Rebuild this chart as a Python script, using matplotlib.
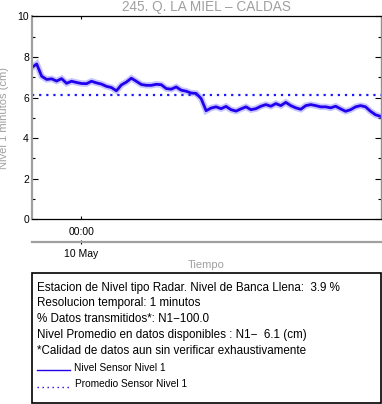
import pandas as pd
import matplotlib
matplotlib.use('Agg')
import matplotlib.pyplot as plt
import matplotlib.dates as mdates
from matplotlib.patches import Rectangle
from matplotlib.lines import Line2D
from matplotlib.ticker import MultipleLocator

plt.rcParams['font.family'] = ['Liberation Sans', 'DejaVu Sans']

# datos
station = '245. Q. LA MIEL \u2013 CALDAS'
t_start = '2024-05-09 20:36'
t_end = '2024-05-10 20:36'
nivel = [7.47, 7.65, 7.05, 6.89, 6.92, 6.81, 6.93, 6.70, 6.80, 6.74,
         6.69, 6.68, 6.80, 6.72, 6.66, 6.55, 6.49, 6.33, 6.62, 6.76,
         6.95, 6.80, 6.64, 6.60, 6.60, 6.65, 6.63, 6.44, 6.41, 6.52,
         6.36, 6.31, 6.22, 6.20, 5.95, 5.35, 5.48, 5.54, 5.45, 5.56,
         5.40, 5.33, 5.44, 5.54, 5.40, 5.45, 5.57, 5.65, 5.57, 5.70,
         5.60, 5.76, 5.60, 5.49, 5.42, 5.60, 5.65, 5.60, 5.54, 5.54,
         5.49, 5.57, 5.44, 5.32, 5.40, 5.54, 5.60, 5.54, 5.32, 5.15, 5.07]
promedio = 6.1
info_lines = [
    'Estacion de Nivel tipo Radar. Nivel de Banca Llena:  3.9 %',
    'Resolucion temporal: 1 minutos',
    '% Datos transmitidos*: N1\u2212100.0',
    'Nivel Promedio en datos disponibles : N1\u2212  6.1 (cm)',
    '*Calidad de datos aun sin verificar exhaustivamente',
]
legend_labels = ['Nivel Sensor Nivel 1', 'Promedio Sensor Nivel 1']

times = pd.date_range(t_start, t_end, periods=len(nivel))

W, H = 382, 404
gray = '#a0a0a0'
blue = '#2200ee'


def fx(px):
    return px / W


def fy(py):
    return 1 - py / H


fig = plt.figure(figsize=(W / 100, H / 100), dpi=100)
ax = fig.add_axes([fx(31.7), fy(219.3), fx(380.5) - fx(31.7), fy(16.3) - fy(219.3)])

# banda clara + trazo principal
ax.plot(times, nivel, color='#8080ff', lw=4.6, alpha=0.45, solid_joinstyle='miter')
ax.plot(times, nivel, color=blue, lw=2.0)
ax.axhline(promedio, color='#1a1aff', lw=1.6, linestyle=(0, (1, 2.2)))

ax.set_xlim(times[0], times[-1])
ax.set_ylim(0, 10)

ax.yaxis.set_major_locator(MultipleLocator(2))
ax.yaxis.set_minor_locator(MultipleLocator(1))
ax.tick_params(axis='y', which='major', direction='in', length=4.5, width=0.8,
               right=True, labelsize=7.5, pad=2)
ax.tick_params(axis='y', which='minor', direction='in', length=2.5, width=0.8, right=True)

ax.xaxis.set_major_locator(mdates.HourLocator(byhour=[0]))
ax.xaxis.set_major_formatter(mdates.DateFormatter('%H:%M'))
ax.tick_params(axis='x', direction='in', length=2.5, width=0.8, top=True,
               labelsize=7.5, pad=5.3)

for side, col, lw in [('left', gray, 1.6), ('right', '#909090', 1.0),
                      ('top', 'black', 0.9), ('bottom', 'black', 0.9)]:
    ax.spines[side].set_color(col)
    ax.spines[side].set_linewidth(lw)

sec = ax.secondary_xaxis(-0.110)
sec.xaxis.set_major_locator(mdates.DayLocator())
sec.xaxis.set_major_formatter(mdates.DateFormatter('%d %b'))
sec.tick_params(direction='inout', length=3, width=0.8, labelsize=7.5, pad=3.7)
sec.spines['bottom'].set_color(gray)
sec.spines['bottom'].set_linewidth(1.6)

fig.text(fx(206), fy(11), station, color=gray, fontsize=9.8, ha='center', va='baseline')
fig.text(fx(4.3), fy(118), 'Nivel 1 minutos (cm)', color=gray, fontsize=8,
         rotation=90, ha='center', va='center')
fig.text(fx(206), fy(268), 'Tiempo', color=gray, fontsize=8, ha='center', va='baseline')

fig.add_artist(Rectangle((fx(31.7), fy(402.5)), fx(380.5) - fx(31.7), fy(273) - fy(402.5),
                         transform=fig.transFigure, fill=False, edgecolor='black', lw=1.2))

for i, s in enumerate(info_lines):
    fig.text(fx(36.7), fy(290.7 + i * 15.7), s, fontsize=8.4, va='baseline')

fig.add_artist(Line2D([fx(36.7), fx(70)], [fy(370), fy(370)], color=blue, lw=1,
                      transform=fig.transFigure))
fig.add_artist(Line2D([fx(36.7), fx(70)], [fy(386.7), fy(386.7)], color=blue, lw=1,
                      linestyle=(0, (1, 2.6)), transform=fig.transFigure))
fig.text(fx(74), fy(370.7), legend_labels[0], fontsize=7.3, va='baseline')
fig.text(fx(75), fy(386.7), legend_labels[1], fontsize=7.3, va='baseline')

fig.savefig('out.png', dpi=100)
